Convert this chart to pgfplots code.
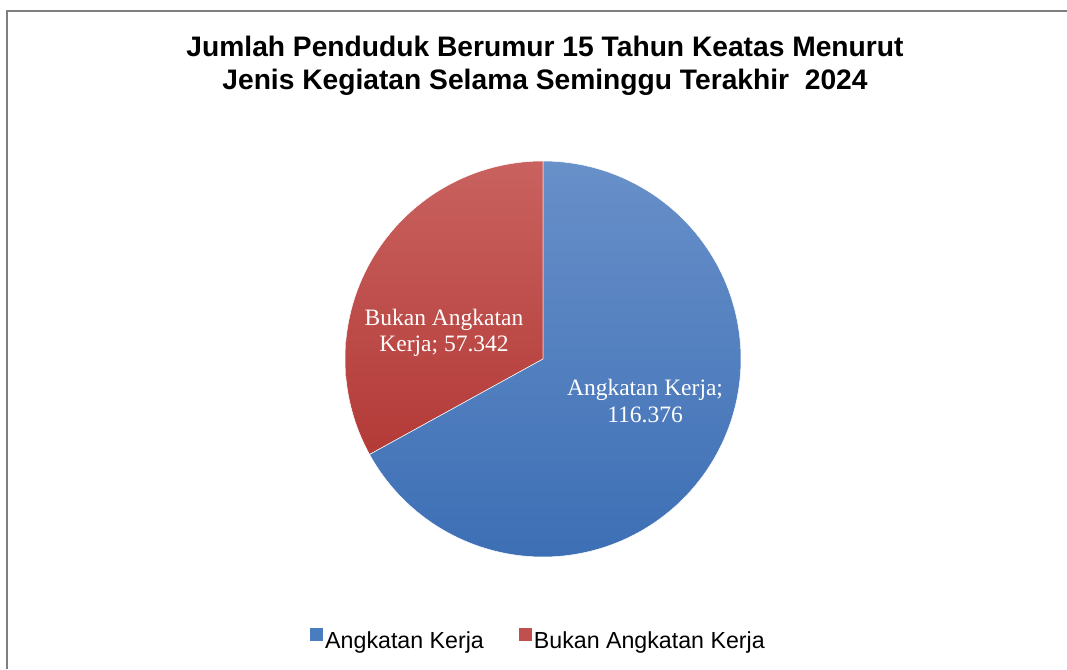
\documentclass[border=0pt]{standalone}
\usepackage{pgfplots}
\pgfplotsset{compat=1.18}
\usepackage{fontspec}
\setmainfont{Liberation Sans}
\newfontfamily\serif{Liberation Serif}
\definecolor{redtop}{HTML}{C9625F}
\definecolor{redbot}{HTML}{B33A37}
\definecolor{bluetop}{HTML}{6890C9}
\definecolor{bluebot}{HTML}{3D6FB5}
\definecolor{blueleg}{HTML}{4A7DC0}
\definecolor{redleg}{HTML}{C0504D}
\definecolor{framec}{HTML}{7F7F7F}
% data
\def\valA{116.376}% Angkatan Kerja
\def\valB{57.342}% Bukan Angkatan Kerja
\pgfmathsetmacro\fracB{\valB/(\valA+\valB)}
\pgfmathsetmacro\endB{90+360*\fracB}
\begin{document}
\begin{tikzpicture}[x=1pt,y=1pt]
\useasboundingbox (0,0) rectangle (1067,669);
\draw[framec, line width=1.4pt] (7,0) -- (7,658) -- (1067,658);
\begin{axis}[
  at={(543pt,310pt)}, anchor=center,
  scale only axis, width=396pt, height=396pt,
  xmin=-1, xmax=1, ymin=-1, ymax=1,
  axis lines=none, clip=false,
  legend image code/.code={\fill[#1] (0pt,-1pt) rectangle (13pt,12pt);},
  legend style={draw=none, fill=none, legend columns=2,
    at={(0.4886,-0.2096)}, anchor=center,
    font=\fontsize{23.2}{26}\selectfont,
    nodes={inner xsep=2pt},
    /tikz/every even column/.append style={column sep=33pt},
    legend cell align=left},
]
\addplot[forget plot, draw=white, line width=0.5pt, top color=redtop, bottom color=redbot,
  domain=90:\endB, samples=120, variable=\t] ({cos(\t)},{sin(\t)}) -- (axis cs:0,0) -- cycle;
\addplot[forget plot, draw=white, line width=0.5pt, top color=bluetop, bottom color=bluebot,
  domain=\endB:450, samples=200, variable=\t] ({cos(\t)},{sin(\t)}) -- (axis cs:0,0) -- cycle;
\addlegendimage{fill=blueleg, draw=none}
\addlegendentry{Angkatan Kerja}
\addlegendimage{fill=redleg, draw=none}
\addlegendentry{Bukan Angkatan Kerja}
\end{axis}
% title
\node[anchor=base, font=\fontsize{28.2}{33}\selectfont\bfseries] at (545,612) {Jumlah Penduduk Berumur 15 Tahun Keatas Menurut};
\node[anchor=base, font=\fontsize{28.2}{33}\selectfont\bfseries] at (545,579) {Jenis Kegiatan Selama Seminggu Terakhir\ \ 2024};
% data labels
\node[anchor=base, text=white, font=\serif\fontsize{23.5}{27}\selectfont] at (444,343) {Bukan Angkatan};
\node[anchor=base, text=white, font=\serif\fontsize{23.5}{27}\selectfont] at (444,317) {Kerja; 57.342};
\node[anchor=base, text=white, font=\serif\fontsize{23.5}{27}\selectfont] at (645,273) {Angkatan Kerja;};
\node[anchor=base, text=white, font=\serif\fontsize{23.5}{27}\selectfont] at (645,246) {116.376};
\end{tikzpicture}
\end{document}
